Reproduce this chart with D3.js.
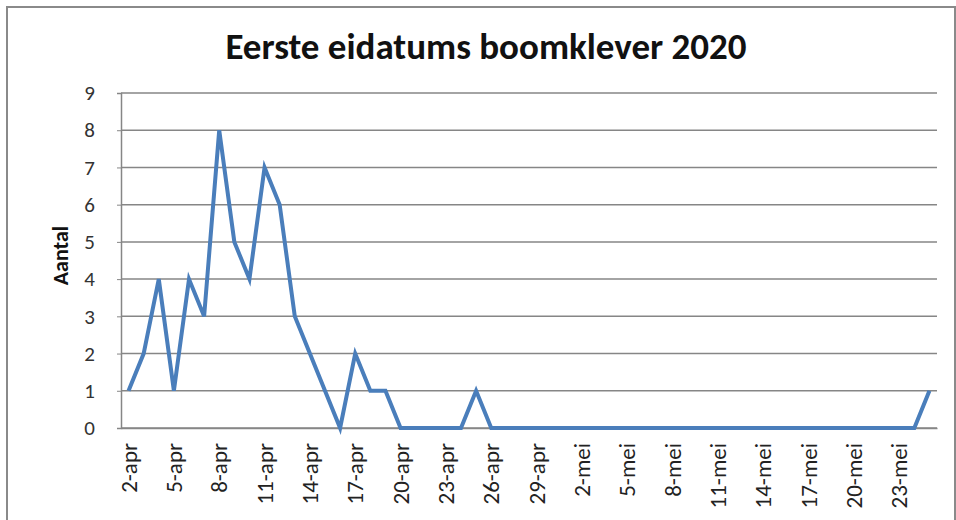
<!DOCTYPE html>
<html>
<head>
<meta charset="utf-8">
<script src="https://cdn.jsdelivr.net/npm/d3@7"></script>
<style>
  body { margin: 0; background: #fff; }
  text { font-family: Carlito, "Open Sans", "Liberation Sans", sans-serif; }
</style>
</head>
<body>
<div id="chart"></div>
<script>
// dagen 2-apr t/m 25-mei
var days = [
  "2-apr","3-apr","4-apr","5-apr","6-apr","7-apr","8-apr","9-apr","10-apr","11-apr",
  "12-apr","13-apr","14-apr","15-apr","16-apr","17-apr","18-apr","19-apr","20-apr","21-apr",
  "22-apr","23-apr","24-apr","25-apr","26-apr","27-apr","28-apr","29-apr","30-apr","1-mei",
  "2-mei","3-mei","4-mei","5-mei","6-mei","7-mei","8-mei","9-mei","10-mei","11-mei",
  "12-mei","13-mei","14-mei","15-mei","16-mei","17-mei","18-mei","19-mei","20-mei","21-mei",
  "22-mei","23-mei","24-mei","25-mei"
];
var aantal = [
  1,2,4,1,4,3,8,5,4,7,
  6,3,2,1,0,2,1,1,0,0,
  0,0,0,1,0,0,0,0,0,0,
  0,0,0,0,0,0,0,0,0,0,
  0,0,0,0,0,0,0,0,0,0,
  0,0,0,1
];
var yTicks = [0,1,2,3,4,5,6,7,8,9];

var W = 956, H = 520;
var margin = { top: 93, right: 19, bottom: 92, left: 121 },
  width = W - margin.left - margin.right,
  height = H - margin.top - margin.bottom;

var svg = d3.select("#chart").append("svg")
  .attr("width", W).attr("height", H);

// kader
svg.append("rect")
  .attr("x", 7).attr("y", 7).attr("width", W - 8).attr("height", H)
  .attr("fill", "#fff").attr("stroke", "#8a8a8a").attr("stroke-width", 2);

svg.append("text")
  .attr("x", 486).attr("y", 59)
  .attr("text-anchor", "middle")
  .attr("font-size", 37).attr("font-weight", "bold").attr("fill", "#111")
  .text("Eerste eidatums boomklever 2020");

var g = svg.append("g")
  .attr("transform", "translate(" + margin.left + "," + margin.top + ")");

var x = d3.scaleBand().domain(days).range([0, width]);
var y = d3.scaleLinear().domain([0, 9]).range([height, 0]);

// rasterlijnen
g.selectAll(".grid").data(yTicks).enter().append("line")
  .attr("x1", 0).attr("x2", width)
  .attr("y1", function (d) { return y(d); })
  .attr("y2", function (d) { return y(d); })
  .attr("stroke", "#868686").attr("stroke-width", 1.5);

var yAxis = g.append("g")
  .call(d3.axisLeft(y).tickValues(yTicks).tickSize(4).tickPadding(22));
yAxis.select(".domain").attr("stroke", "#868686").attr("stroke-width", 1.5);
yAxis.selectAll(".tick line").attr("stroke", "#868686");
yAxis.selectAll("text").attr("font-size", 21).attr("fill", "#333")
  .attr("font-family", "Carlito, 'Open Sans', sans-serif");

var xAxis = g.append("g")
  .attr("transform", "translate(0," + height + ")")
  .call(d3.axisBottom(x)
    .tickValues(days.filter(function (d, i) { return i % 3 === 0; }))
    .tickSize(0).tickPadding(0));
xAxis.select(".domain").attr("stroke", "#868686").attr("stroke-width", 1.5);
xAxis.selectAll("text")
  .attr("font-size", 23).attr("fill", "#222")
  .attr("font-family", "Carlito, 'Open Sans', sans-serif")
  .attr("text-anchor", "end")
  .attr("transform", "rotate(-90)")
  .attr("x", -15).attr("y", 0).attr("dy", "0.35em");

svg.append("text")
  .attr("transform", "translate(60," + (margin.top + height / 2 - 5) + ") rotate(-90)")
  .attr("text-anchor", "middle").attr("dy", "0.35em")
  .attr("font-size", 22).attr("font-weight", "bold").attr("fill", "#111")
  .text("Aantal");

var line = d3.line()
  .x(function (d, i) { return x(days[i]) + x.bandwidth() / 2; })
  .y(function (d) { return y(d); });

g.append("path")
  .datum(aantal)
  .attr("fill", "none")
  .attr("stroke", "#4a7ebb")
  .attr("stroke-width", 4)
  .attr("stroke-linejoin", "miter")
  .attr("d", line);
</script>
</body>
</html>
